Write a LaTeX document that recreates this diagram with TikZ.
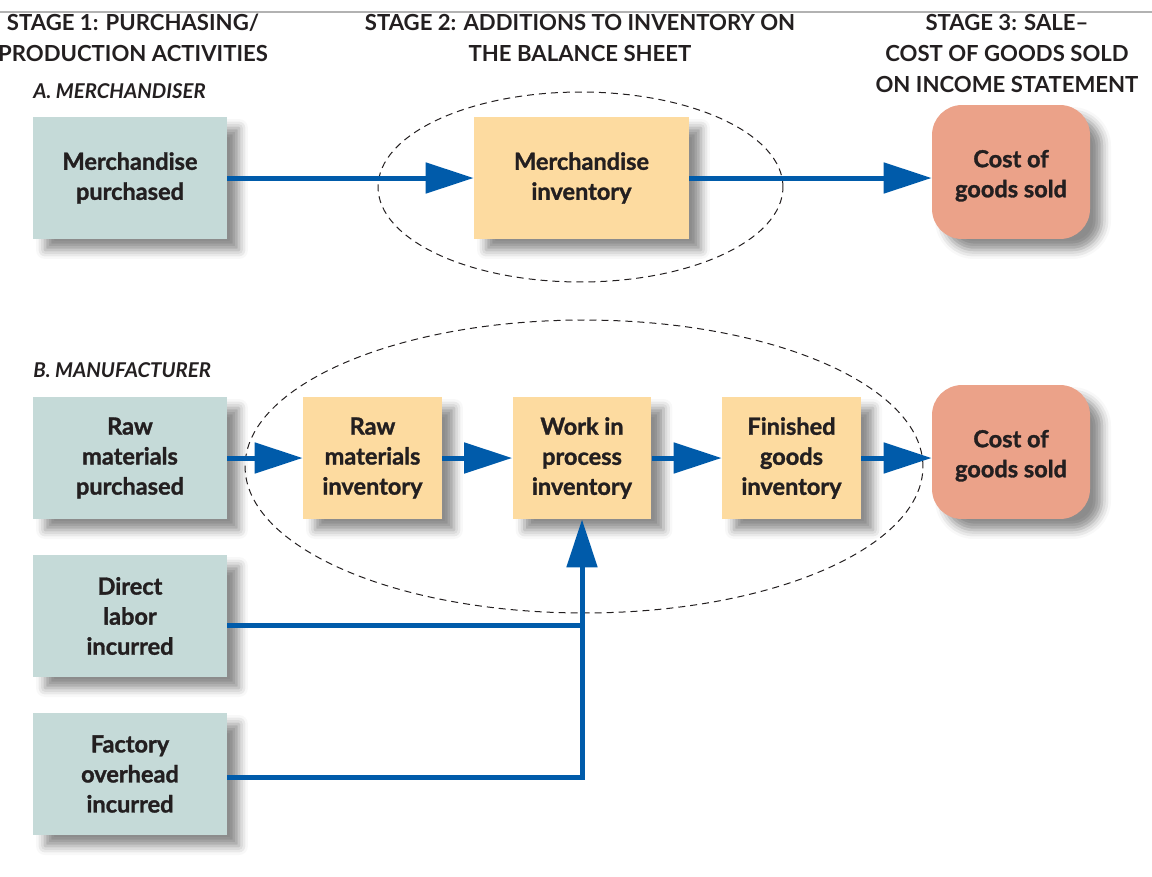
\documentclass[tikz,border=0pt]{standalone}
\usepackage{fontspec}
\setmainfont{Lato}
\newfontfamily\boxfont{Lato}[BoldFeatures={FakeBold=1.3}]
\usepackage{xcolor}
\usetikzlibrary{positioning,calc,arrows.meta,shadows.blur}

\definecolor{purchcol}{RGB}{197,218,216}
\definecolor{invcol}{RGB}{253,219,160}
\definecolor{cogscol}{RGB}{235,162,137}
\definecolor{flowcol}{RGB}{0,91,170}
\definecolor{inkcol}{RGB}{35,31,32}

\tikzset{
    box/.style={text=inkcol, font=\boxfont\bfseries\fontsize{13.4}{17.1}\selectfont, align=center,
        minimum height=2.44cm, inner sep=2pt,
        blur shadow={shadow xshift=0.24cm, shadow yshift=-0.22cm, shadow blur radius=0.18cm, shadow opacity=45}},
    purch/.style={box, fill=purchcol, minimum width=3.88cm},
    inv/.style={box, fill=invcol, minimum width=2.78cm},
    cogs/.style={box, fill=cogscol, minimum width=3.16cm, minimum height=2.68cm, rounded corners=0.6cm,
        text height=31.5pt, text depth=2.7pt},
    flow/.style={draw=flowcol, line width=0.1cm},
    flowarrow/.style={flow, -{Triangle[length=0.96cm, width=0.6cm]}},
    stage/.style={text=inkcol, font=\bfseries\fontsize{12.6}{17.6}\selectfont, align=center, inner sep=0pt, anchor=north},
    group/.style={dash pattern=on 0.14cm off 0.1cm, line width=0.02cm, inkcol},
    part/.style={text=inkcol, font=\boxfont\bfseries\itshape\fontsize{11.6}{14}\selectfont, inner sep=0pt, anchor=west}
}

\begin{document}
\begin{tikzpicture}[x=0.02cm, y=-0.02cm]
    \useasboundingbox (0,0) rectangle (1152,876);
    \draw[gray!60, line width=0.04cm] (0,12) -- (1152,12);

    % stage headings
    \node[stage] (stageone) at (133,14) {STAGE 1: PURCHASING/\\PRODUCTION ACTIVITIES};
    \node[stage] (stagetwo) at (580,14) {STAGE 2: ADDITIONS TO INVENTORY ON\\THE BALANCE SHEET};
    \node[stage] (stagethree) at (1007,14) {STAGE 3: SALE--\\COST OF GOODS SOLD\\ON INCOME STATEMENT};

    % inventory groups
    \draw[group] (580.5,187) ellipse [x radius=4.05cm, y radius=1.9cm];
    \draw[group] (584,466.5) ellipse [x radius=6.78cm, y radius=2.93cm];

    % A. merchandiser
    \node[part] (merch) at (33,91) {A. MERCHANDISER};
    \node[purch] (mpurch) at (130,178) {Merchandise\\purchased};
    \node[box, fill=invcol, minimum width=4.3cm] (minv) at (581.5,178) {Merchandise\\inventory};
    \node[cogs] (cogsA) at (1011,172) {Cost of\\goods sold};

    \draw[flowarrow] (mpurch) -- (minv);
    \draw[flowarrow] (minv) -- (minv -| cogsA.west);

    % B. manufacturer
    \node[part] (manuf) at (33,370) {B. MANUFACTURER};
    \node[purch] (rawpurch) at (130,458) {Raw\\materials\\purchased};
    \node[inv] (rawinv) at (372.5,458) {Raw\\materials\\inventory};
    \node[inv] (wip) at (582,458) {Work in\\process\\inventory};
    \node[inv] (fginv) at (791.5,458) {Finished\\goods\\inventory};
    \node[cogs] (cogsB) at (1011,452) {Cost of\\goods sold};
    \node[purch] (labor) at (130,616) {Direct\\labor\\incurred};
    \node[purch] (overhead) at (130,774) {Factory\\overhead\\incurred};

    \draw[flowarrow] (rawpurch) -- (rawinv);
    \draw[flowarrow] (rawinv) -- (wip);
    \draw[flowarrow] (wip) -- (fginv);
    \draw[flowarrow] (fginv) -- (fginv -| cogsB.west);

    \coordinate (lab) at ([yshift=-0.18cm]labor.east);
    \coordinate (ovh) at ([yshift=-0.06cm]overhead.east);
    \draw[flow] (lab) -- (lab -| wip.south);
    \draw[flowarrow] (ovh) -- (ovh -| wip.south) -- (wip.south);
\end{tikzpicture}
\end{document}
